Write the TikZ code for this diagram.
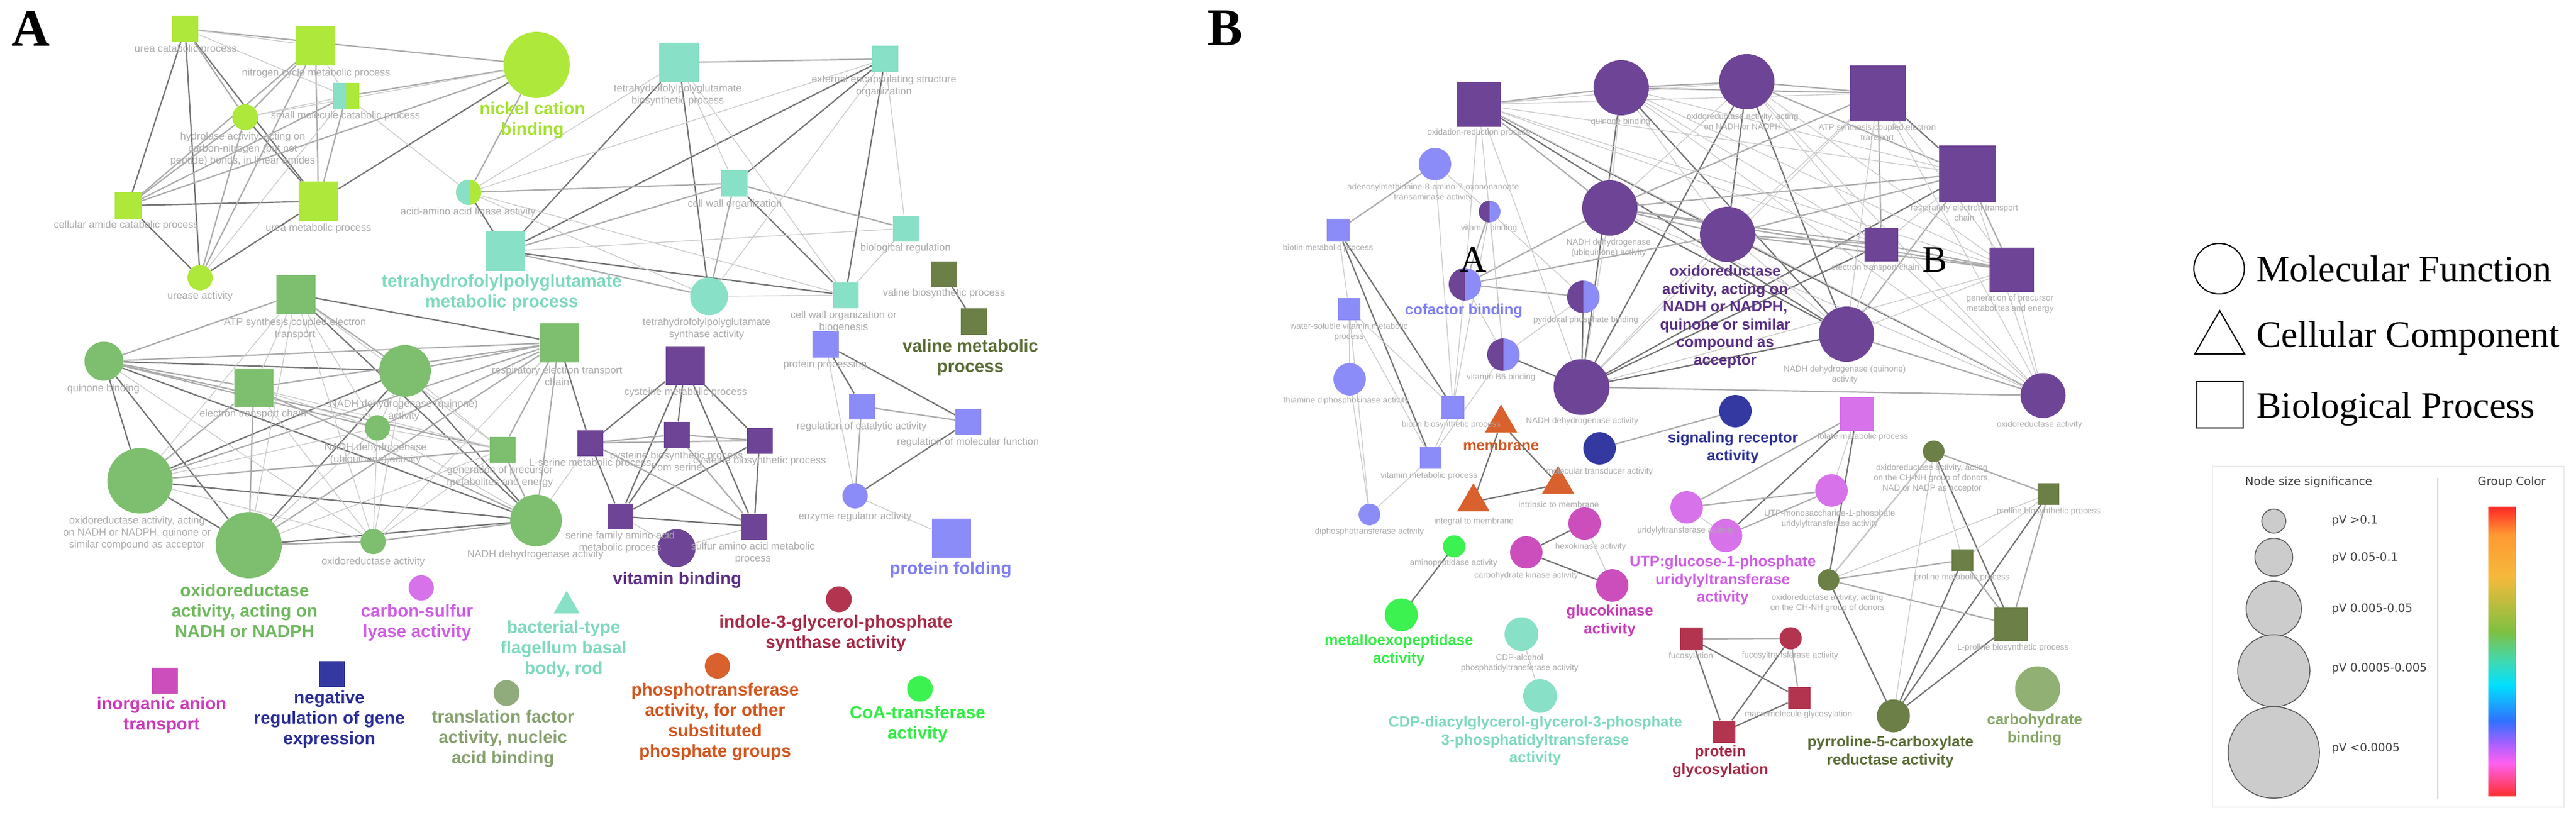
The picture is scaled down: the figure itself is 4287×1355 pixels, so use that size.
\documentclass[tikz,border=0pt]{standalone}
\usepackage{fontspec}
\setmainfont{Liberation Serif}
\newfontfamily\net{Liberation Sans}
\newfontfamily\dv{DejaVu Sans}
\usetikzlibrary{shapes.geometric}
\pgfdeclarelayer{bg}\pgfsetlayers{bg,main}
\definecolor{limeC}{HTML}{AEE83A}\definecolor{limeL}{HTML}{A4E230}
\definecolor{cyanC}{HTML}{88E0C6}\definecolor{cyanL}{HTML}{7ED9BE}
\definecolor{greenC}{HTML}{7DBF6E}\definecolor{greenL}{HTML}{70B85F}
\definecolor{oliveC}{HTML}{6B7F47}\definecolor{oliveL}{HTML}{5A6C34}
\definecolor{purpC}{HTML}{6E4596}\definecolor{purpL}{HTML}{5A2F85}
\definecolor{lavC}{HTML}{8C8CF8}\definecolor{lavL}{HTML}{7F7FF2}
\definecolor{vioC}{HTML}{D772EA}\definecolor{vioL}{HTML}{CF5EE4}
\definecolor{magC}{HTML}{CC4EBC}\definecolor{magL}{HTML}{C93CB8}
\definecolor{navyC}{HTML}{3339A0}\definecolor{navyL}{HTML}{2A2F96}
\definecolor{grgC}{HTML}{90AB7C}\definecolor{grgL}{HTML}{86A06E}
\definecolor{oraC}{HTML}{D8612D}\definecolor{oraL}{HTML}{D2561F}
\definecolor{crimC}{HTML}{B2344F}\definecolor{crimL}{HTML}{A62A47}
\definecolor{lgC}{HTML}{3CF250}\definecolor{lgL}{HTML}{34EC46}
\definecolor{carbC}{HTML}{90B074}\definecolor{carbL}{HTML}{86A766}
\newcommand\labA{\net\fontsize{17}{20}\selectfont}
\newcommand\labB{\net\fontsize{14}{17}\selectfont}
\newcommand\bigA{\net\bfseries\fontsize{29}{34}\selectfont}
\newcommand\bigB{\net\bfseries\fontsize{25}{29.5}\selectfont}
\tikzset{
 mf/.style={circle,inner sep=0,minimum size=#1},
 bp/.style={rectangle,inner sep=0,minimum size=#1},
 cc/.style={regular polygon,regular polygon sides=3,inner sep=0,minimum size=#1},
 split/.style n args={3}{circle,inner sep=0,minimum size=#3,fill=#2,path picture={\fill[#1] (path picture bounding box.south west) rectangle (path picture bounding box.north);}},
 splitsq/.style n args={3}{rectangle,inner sep=0,minimum size=#3,fill=#2,path picture={\fill[#1] (path picture bounding box.south west) rectangle (path picture bounding box.north);}},
 la/.style={font=\labA,text=black!33,align=center,inner sep=0},
 lb/.style={font=\labB,text=black!33,align=center,inner sep=0},
 ba/.style={font=\bigA,text=#1,align=center,inner sep=0},
 bb/.style={font=\bigB,text=#1,align=center,inner sep=0},
 e1/.style={draw=black!20,line width=1.4},
 e2/.style={draw=black!33,line width=2.2},
 e3/.style={draw=black!55,line width=2.2},
}
\begin{document}
\begin{tikzpicture}[x=1pt,y=-1pt]
\useasboundingbox (0,0) rectangle (4287,1355);
\node[font=\bfseries\fontsize{88}{90}\selectfont] (pA) at (51,47) {A};
\node[font=\bfseries\fontsize{88}{90}\selectfont] (pB) at (2039,47) {B};
% ---------- Panel A ----------
\node[bp=44,fill=limeC] (ucp) at (308,48) {};
\node[bp=66,fill=limeC] (ncm) at (525,76) {};
\node[mf=110,fill=limeC] (nick) at (893,108) {};
\node[splitsq={cyanC}{limeC}{44}] (smc) at (576,160) {};
\node[mf=43,fill=limeC] (hyd) at (408,195) {};
\node[bp=45,fill=limeC] (cac) at (213,342) {};
\node[bp=66,fill=limeC] (umb) at (530,335) {};
\node[split={cyanC}{limeC}{42}] (aal) at (780,320) {};
\node[mf=42,fill=limeC] (ure) at (333,462) {};
\node[bp=66,fill=cyanC] (thfm) at (841,418) {};
\node[bp=66,fill=cyanC] (thfb) at (1130,104) {};
\node[bp=44,fill=cyanC] (eeso) at (1473,98) {};
\node[bp=44,fill=cyanC] (cwo) at (1222,305) {};
\node[bp=43,fill=cyanC] (bior) at (1507,380) {};
\node[mf=63,fill=cyanC] (thfs) at (1180,493) {};
\node[bp=43,fill=cyanC] (cwob) at (1407,491) {};
\node[bp=43,fill=oliveC] (vbp) at (1571,456) {};
\node[bp=44,fill=oliveC] (vmp) at (1621,535) {};
\node[bp=65,fill=greenC] (atp) at (492,490) {};
\node[mf=65,fill=greenC] (qb) at (173,601) {};
\node[mf=86,fill=greenC] (ndq) at (674,617) {};
\node[bp=65,fill=greenC] (etc) at (422,645) {};
\node[mf=42,fill=greenC] (ndu) at (628,712) {};
\node[bp=43,fill=greenC] (gpm) at (836,748) {};
\node[bp=65,fill=greenC] (ret) at (930,570) {};
\node[mf=109,fill=greenC] (oxq) at (233,800) {};
\node[mf=110,fill=greenC] (oxn) at (414,907) {};
\node[mf=42,fill=greenC] (oxa) at (621,901) {};
\node[mf=86,fill=greenC] (nda) at (892,866) {};
\node[bp=65,fill=purpC] (cmp) at (1140,608) {};
\node[bp=43,fill=purpC] (lsm) at (982,737) {};
\node[bp=43,fill=purpC] (cbs) at (1126,723) {};
\node[bp=43,fill=purpC] (cbp) at (1264,733) {};
\node[bp=43,fill=purpC] (sfa) at (1032,859) {};
\node[bp=43,fill=purpC] (saa) at (1255,876) {};
\node[mf=63,fill=purpC] (vb) at (1126,912) {};
\node[bp=44,fill=lavC] (pp) at (1374,573) {};
\node[bp=43,fill=lavC] (rca) at (1434,676) {};
\node[bp=43,fill=lavC] (rmf) at (1611,702) {};
\node[mf=42,fill=lavC] (era) at (1423,825) {};
\node[bp=65,fill=lavC] (pf) at (1583,895) {};
\node[mf=42,fill=vioC] (csl) at (701,978) {};
\node[cc=50,fill=cyanC] (bfl) at (943,1008) {};
\node[mf=43,fill=crimC] (igp) at (1396,997) {};
\node[bp=43,fill=magC] (iat) at (274,1132) {};
\node[bp=43,fill=navyC] (nrg) at (552,1121) {};
\node[mf=43,fill=grgC] (tfa) at (843,1153) {};
\node[mf=42,fill=oraC] (pta) at (1194,1108) {};
\node[mf=43,fill=lgC] (coa) at (1531,1146) {};
% labels A
\node[la] (l1) at (309,82) {urea catabolic process};
\node[la] (l2) at (526,122) {nitrogen cycle metabolic process};
\node[ba=limeL] (l3) at (886,200) {nickel cation\\binding};
\node[la] (l4) at (575,193) {small molecule catabolic process};
\node[la] (l5) at (404,248) {hydrolase activity, acting on\\carbon-nitrogen (but not\\peptide) bonds, in linear amides};
\node[la] (l6) at (210,375) {cellular amide catabolic process};
\node[la] (l7) at (530,380) {urea metabolic process};
\node[la] (l8) at (779,353) {acid-amino acid ligase activity};
\node[la] (l9) at (333,493) {urease activity};
\node[ba=cyanL] (l10) at (835,487) {tetrahydrofolylpolyglutamate\\metabolic process};
\node[la] (l11) at (1128,158) {tetrahydrofolylpolyglutamate\\biosynthetic process};
\node[la] (l12) at (1471,143) {external encapsulating structure\\organization};
\node[la] (l13) at (1223,340) {cell wall organization};
\node[la] (l14) at (1507,413) {biological regulation};
\node[la] (l15) at (1571,488) {valine biosynthetic process};
\node[ba=oliveL] (l16) at (1615,595) {valine metabolic\\process};
\node[la] (l17) at (1176,547) {tetrahydrofolylpolyglutamate\\synthase activity};
\node[la] (l18) at (1404,535) {cell wall organization or\\biogenesis};
\node[la] (l19) at (491,547) {ATP synthesis coupled electron\\transport};
\node[la] (l20) at (172,647) {quinone binding};
\node[la] (l21) at (672,683) {NADH dehydrogenase (quinone)\\activity};
\node[la] (l22) at (421,689) {electron transport chain};
\node[la] (l23) at (625,755) {NADH dehydrogenase\\(ubiquinone) activity};
\node[la] (l24) at (832,793) {generation of precursor\\metabolites and energy};
\node[la] (l25) at (927,625) {respiratory electron transport\\chain};
\node[la] (l26) at (228,887) {oxidoreductase activity, acting\\on NADH or NADPH, quinone or\\similar compound as acceptor};
\node[ba=greenL] (l27) at (407,1016) {oxidoreductase\\activity, acting on\\NADH or NADPH};
\node[la] (l28) at (621,935) {oxidoreductase activity};
\node[la] (l29) at (891,923) {NADH dehydrogenase activity};
\node[la] (l30) at (1141,653) {cysteine metabolic process};
\node[la] (l31) at (982,771) {L-serine metabolic process};
\node[la] (l32) at (1126,767) {cysteine biosynthetic process\\from serine};
\node[la] (l33) at (1264,767) {cysteine biosynthetic process};
\node[la] (l34) at (1032,902) {serine family amino acid\\metabolic process};
\node[la] (l35) at (1253,920) {sulfur amino acid metabolic\\process};
\node[ba=purpL] (l36) at (1127,965) {vitamin binding};
\node[la] (l37) at (1373,607) {protein processing};
\node[la] (l38) at (1434,710) {regulation of catalytic activity};
\node[la] (l39) at (1611,736) {regulation of molecular function};
\node[la] (l40) at (1423,860) {enzyme regulator activity};
\node[ba=lavL] (l41) at (1582,948) {protein folding};
\node[ba=vioL] (l42) at (694,1036) {carbon-sulfur\\lyase activity};
\node[ba=cyanL] (l43) at (938,1080) {bacterial-type\\flagellum basal\\body, rod};
\node[ba=crimL] (l44) at (1391,1054) {indole-3-glycerol-phosphate\\synthase activity};
\node[ba=magL] (l45) at (269,1190) {inorganic anion\\transport};
\node[ba=navyL] (l46) at (548,1197) {negative\\regulation of gene\\expression};
\node[ba=grgL] (l47) at (837,1229) {translation factor\\activity, nucleic\\acid binding};
\node[ba=oraL] (l48) at (1190,1201) {phosphotransferase\\activity, for other\\substituted\\phosphate groups};
\node[ba=lgL] (l49) at (1527,1205) {CoA-transferase\\activity};
% ---------- Panel B ----------
\node[bp=74,fill=purpC] (orp) at (2461,174) {};
\node[mf=92,fill=purpC] (bqb) at (2698,146) {};
\node[mf=92,fill=purpC] (bonn) at (2907,136) {};
\node[bp=93,fill=purpC] (batp) at (3125,155) {};
\node[bp=94,fill=purpC] (bret) at (3274,289) {};
\node[mf=92,fill=purpC] (bndu) at (2679,346) {};
\node[mf=92,fill=purpC] (boxq) at (2875,390) {};
\node[bp=56,fill=purpC] (betc) at (3131,407) {};
\node[bp=74,fill=purpC] (bgpm) at (3348,449) {};
\node[mf=92,fill=purpC] (bndq) at (3073,556) {};
\node[mf=93,fill=purpC] (bnda) at (2632,644) {};
\node[mf=75,fill=purpC] (boxa) at (3400,658) {};
\node[split={purpC}{lavC}{36}] (bvb) at (2479,352) {};
\node[split={purpC}{lavC}{54}] (bcof) at (2438,473) {};
\node[split={purpC}{lavC}{54}] (bpyr) at (2635,494) {};
\node[split={purpC}{lavC}{54}] (bvb6) at (2502,590) {};
\node[mf=54,fill=lavC] (bado) at (2388,273) {};
\node[bp=38,fill=lavC] (bbmp) at (2227,383) {};
\node[bp=37,fill=lavC] (bwsv) at (2245,514) {};
\node[mf=54,fill=lavC] (bthi) at (2246,631) {};
\node[bp=38,fill=lavC] (bbbp) at (2418,678) {};
\node[bp=36,fill=lavC] (bvmp) at (2381,762) {};
\node[mf=36,fill=lavC] (bdip) at (2279,856) {};
\node[cc=62,fill=oraC] (bmem) at (2498,704) {};
\node[cc=62,fill=oraC] (bintr) at (2593,806) {};
\node[cc=62,fill=oraC] (bint) at (2452,835) {};
\node[mf=54,fill=navyC] (bmta) at (2662,746) {};
\node[mf=54,fill=navyC] (bsig) at (2888,684) {};
\node[bp=56,fill=vioC] (bfol) at (3090,689) {};
\node[mf=54,fill=vioC] (butp) at (2807,844) {};
\node[mf=54,fill=vioC] (butm) at (3048,816) {};
\node[mf=55,fill=vioC] (butg) at (2872,891) {};
\node[mf=54,fill=magC] (bhex) at (2637,871) {};
\node[mf=54,fill=magC] (bcka) at (2540,919) {};
\node[mf=54,fill=magC] (bglk) at (2683,974) {};
\node[mf=37,fill=lgC] (bamp) at (2420,909) {};
\node[mf=55,fill=lgC] (bmet) at (2332,1023) {};
\node[mf=56,fill=cyanC] (bcdpa) at (2532,1055) {};
\node[mf=56,fill=cyanC] (bcdpd) at (2563,1158) {};
\node[bp=38,fill=crimC] (bfuc) at (2815,1063) {};
\node[mf=37,fill=crimC] (bfta) at (2980,1062) {};
\node[bp=37,fill=crimC] (bmac) at (2994,1161) {};
\node[bp=37,fill=crimC] (bpg) at (2869,1217) {};
\node[mf=36,fill=oliveC] (bch1) at (3218,751) {};
\node[bp=36,fill=oliveC] (bpbp) at (3409,822) {};
\node[bp=36,fill=oliveC] (bpmp) at (3266,932) {};
\node[mf=36,fill=oliveC] (bch2) at (3043,965) {};
\node[bp=56,fill=oliveC] (blpb) at (3347,1039) {};
\node[mf=55,fill=oliveC] (bpyrr) at (3151,1191) {};
\node[mf=75,fill=carbC] (bcarb) at (3391,1146) {};
\node[font=\fontsize{62}{64}\selectfont] (mA) at (2452,432) {A};
\node[font=\fontsize{62}{64}\selectfont] (mB) at (3220,432) {B};
% labels B
\node[lb] (m1) at (2461,221) {oxidation-reduction process};
\node[lb] (m2) at (2697,203) {quinone binding};
\node[lb] (m3) at (2900,202) {oxidoreductase activity, acting\\on NADH or NADPH};
\node[lb] (m4) at (3124,221) {ATP synthesis coupled electron\\transport};
\node[lb] (m5) at (3269,354) {respiratory electron transport\\chain};
\node[lb] (m6) at (2385,320) {adenosylmethionine-8-amino-7-oxononanoate\\transaminase activity};
\node[lb] (m7) at (2478,380) {vitamin binding};
\node[lb] (m8) at (2210,413) {biotin metabolic process};
\node[lb] (m9) at (2677,412) {NADH dehydrogenase\\(ubiquinone) activity};
\node[bb=purpL] (m10) at (2871,527) {oxidoreductase\\activity, acting on\\NADH or NADPH,\\quinone or similar\\compound as\\acceptor};
\node[lb] (m11) at (3121,446) {electron transport chain};
\node[lb] (m12) at (3345,505) {generation of precursor\\metabolites and energy};
\node[bb=lavL] (m13) at (2436,517) {cofactor binding};
\node[lb] (m14) at (2639,533) {pyridoxal phosphate binding};
\node[lb] (m15) at (2245,552) {water-soluble vitamin metabolic\\process};
\node[lb] (m16) at (3070,623) {NADH dehydrogenase (quinone)\\activity};
\node[lb] (m17) at (2498,628) {vitamin B6 binding};
\node[lb] (m18) at (2240,667) {thiamine diphosphokinase activity};
\node[lb] (m19) at (2415,707) {biotin biosynthetic process};
\node[lb] (m20) at (2633,701) {NADH dehydrogenase activity};
\node[lb] (m21) at (3394,707) {oxidoreductase activity};
\node[bb=oraL] (m22) at (2498,741) {membrane};
\node[lb] (m23) at (2662,785) {molecular transducer activity};
\node[bb=navyL] (m24) at (2884,745) {signaling receptor\\activity};
\node[lb] (m25) at (3100,727) {folate metabolic process};
\node[lb] (m26) at (3215,796) {oxidoreductase activity, acting\\on the CH-NH group of donors,\\NAD or NADP as acceptor};
\node[lb] (m27) at (3409,851) {proline biosynthetic process};
\node[lb] (m28) at (2378,792) {vitamin metabolic process};
\node[lb] (m29) at (2594,839) {intrinsic to membrane};
\node[lb] (m30) at (2453,868) {integral to membrane};
\node[lb] (m31) at (2279,885) {diphosphotransferase activity};
\node[lb] (m32) at (2805,883) {uridylyltransferase activity};
\node[lb] (m33) at (3045,863) {UTP-monosaccharide-1-phosphate\\uridylyltransferase activity};
\node[bb=vioL] (m34) at (2867,966) {UTP:glucose-1-phosphate\\uridylyltransferase\\activity};
\node[lb] (m35) at (2647,910) {hexokinase activity};
\node[lb] (m36) at (2540,958) {carbohydrate kinase activity};
\node[bb=magL] (m37) at (2679,1033) {glucokinase\\activity};
\node[lb] (m38) at (2419,937) {aminopeptidase activity};
\node[lb] (m39) at (3265,961) {proline metabolic process};
\node[lb] (m40) at (3041,1003) {oxidoreductase activity, acting\\on the CH-NH group of donors};
\node[lb] (m41) at (3350,1078) {L-proline biosynthetic process};
\node[bb=lgL] (m42) at (2328,1082) {metalloexopeptidase\\activity};
\node[lb] (m43) at (2529,1103) {CDP-alcohol\\phosphatidyltransferase activity};
\node[bb=cyanL] (m44) at (2555,1233) {CDP-diacylglycerol-glycerol-3-phosphate\\3-phosphatidyltransferase\\activity};
\node[lb] (m45) at (2814,1092) {fucosylation};
\node[lb] (m46) at (2979,1091) {fucosyltransferase activity};
\node[lb] (m47) at (2993,1189) {macromolecule glycosylation};
\node[bb=crimL] (m48) at (2863,1267) {protein\\glycosylation};
\node[bb=oliveL] (m49) at (3146,1251) {pyrroline-5-carboxylate\\reductase activity};
\node[bb=carbL] (m50) at (3386,1214) {carbohydrate\\binding};
% ---------- Legend ----------
\node[circle,draw=black,line width=2,minimum size=84,inner sep=0] (gmf) at (3693,447) {};
\node[regular polygon,regular polygon sides=3,draw=black,line width=2,minimum size=96,inner sep=0] (gcc) at (3694,565) {};
\node[rectangle,draw=black,line width=2,minimum size=77,inner sep=0] (gbp) at (3694,673) {};
\node[anchor=west,font=\fontsize{62}{64}\selectfont] (tmf) at (3752,447) {Molecular Function};
\node[anchor=west,font=\fontsize{62}{64}\selectfont] (tcc) at (3752,563) {Cellular Component};
\node[anchor=west,font=\fontsize{62}{64}\selectfont] (tbp) at (3752,681) {Biological Process};
\draw[draw=black!8,line width=2] (3682,776) rectangle (4267,1343);
\draw[draw=black!22,line width=2] (4057,795) -- (4057,1330);
\node[font=\dv\fontsize{19}{21}\selectfont,text=black!75] (tns) at (3842,802) {Node size significance};
\node[font=\dv\fontsize{19}{21}\selectfont,text=black!75] (tgc) at (4180,802) {Group Color};
\tikzset{sz/.style={circle,fill=black!20,draw=black!65,line width=1.5,inner sep=0,minimum size=#1}}
\node[sz=40] (s1) at (3784,867) {};
\node[sz=63] (s2) at (3784,927) {};
\node[sz=92] (s3) at (3784,1013) {};
\node[sz=120] (s4) at (3784,1116) {};
\node[sz=152] (s5) at (3784,1252) {};
\tikzset{st/.style={anchor=west,font=\dv\fontsize{19}{21}\selectfont,text=black!75,inner sep=0}}
\node[st] (t1) at (3880,866) {pV >0.1};
\node[st] (t2) at (3880,928) {pV 0.05-0.1};
\node[st] (t3) at (3880,1013) {pV 0.005-0.05};
\node[st] (t4) at (3880,1112) {pV 0.0005-0.005};
\node[st] (t5) at (3880,1245) {pV <0.0005};
\shade[top color=red!85!white,bottom color=orange!80!white] (4141,843) rectangle (4187,890);
\shade[top color=orange!80!white,bottom color={rgb,255:red,245;green,185;blue,60}] (4141,890) rectangle (4187,960);
\shade[top color={rgb,255:red,245;green,185;blue,60},bottom color={rgb,255:red,128;green,192;blue,64}] (4141,960) rectangle (4187,1050);
\shade[top color={rgb,255:red,128;green,192;blue,64},bottom color={rgb,255:red,64;green,216;blue,176}] (4141,1050) rectangle (4187,1100);
\shade[top color={rgb,255:red,64;green,216;blue,176},bottom color={rgb,255:red,0;green,224;blue,255}] (4141,1100) rectangle (4187,1140);
\shade[top color={rgb,255:red,0;green,224;blue,255},bottom color={rgb,255:red,48;green,112;blue,255}] (4141,1140) rectangle (4187,1200);
\shade[top color={rgb,255:red,48;green,112;blue,255},bottom color={rgb,255:red,176;green,96;blue,255}] (4141,1200) rectangle (4187,1240);
\shade[top color={rgb,255:red,176;green,96;blue,255},bottom color={rgb,255:red,255;green,96;blue,240}] (4141,1240) rectangle (4187,1270);
\shade[top color={rgb,255:red,255;green,96;blue,240},bottom color={rgb,255:red,255;green,48;blue,48}] (4141,1270) rectangle (4187,1324);
% ---------- Edges ----------
\begin{pgfonlayer}{bg}
\foreach \a/\b in {ucp/cac,ucp/ure,ucp/umb,hyd/umb,cac/ure,umb/ure,nick/umb,cac/umb,thfm/thfb,thfm/eeso,thfb/thfs,eeso/cwo,cwo/cwob,eeso/cwob,thfm/cwob,aal/thfm,vbp/vmp,
 qb/ndq,qb/oxn,qb/nda,oxq/ndq,oxq/nda,oxq/oxn,oxn/ndq,oxn/nda,ndq/nda,atp/ret,atp/nda,qb/oxq,ret/lsm,
 cmp/lsm,cmp/cbs,cmp/cbp,cmp/sfa,cmp/saa,lsm/sfa,cbs/sfa,cbp/saa,sfa/saa,cbp/sfa,pp/rca,pp/rmf,rmf/era}
 \draw[e3] (\a)--(\b);
\foreach \a/\b in {ucp/nick,ucp/hyd,ncm/hyd,ncm/cac,ncm/umb,ncm/ure,smc/nick,smc/cac,smc/umb,hyd/cac,hyd/ure,cac/nick,aal/nick,thfb/eeso,cwo/thfs,cwo/bior,thfm/thfs,thfm/cwo,aal/cwo,
 qb/etc,qb/ret,qb/gpm,qb/atp,etc/ret,etc/nda,etc/oxq,etc/oxn,ndq/ret,ret/oxq,ret/oxn,ret/nda,ret/gpm,ndu/ret,ndu/qb,gpm/oxq,gpm/nda,oxa/oxn,oxa/nda,atp/ndq,
 lsm/cbs,lsm/cbp,cbs/cbp,lsm/saa,cbs/saa,rca/rmf,rca/era}
 \draw[e2] (\a)--(\b);
\foreach \a/\b in {ucp/ncm,ucp/smc,ncm/smc,smc/hyd,smc/ure,hyd/nick,smc/aal,thfb/cwob,thfb/cwo,eeso/thfs,eeso/bior,bior/cwob,thfs/cwob,aal/thfb,aal/eeso,aal/thfs,aal/cwob,thfm/bior,
 atp/etc,atp/oxq,atp/oxn,atp/ndu,atp/oxa,atp/gpm,etc/ndu,etc/oxa,etc/gpm,ndq/ndu,ndq/gpm,ndq/oxa,ndu/oxq,ndu/oxn,ndu/oxa,ndu/nda,ndu/gpm,gpm/oxn,gpm/oxa,qb/oxa,oxq/oxa,ret/oxa,nda/lsm,
 sfa/vb,saa/vb,pp/era,era/pf}
 \draw[e1] (\a)--(\b);
\foreach \a/\b in {orp/boxq,bqb/bnda,bqb/bndq,bonn/bnda,bonn/boxq,bonn/bndq,bndu/bndq,boxq/boxa,batp/bret,bndq/bnda,orp/bndq,betc/bnda,bret/bnda,
 bvb6/bnda,bpyr/bnda,bbmp/bbbp,bbmp/bvmp,bint/bintr,bmem/bint,bmem/bintr,bhex/bcka,bcka/bglk,bamp/bmet,bfuc/bmac,bfuc/bpg,bfta/bpg,bmac/bpg,bch2/bfol,bch1/blpb,bch2/bpyrr,blpb/bpyrr,bpbp/bpyrr,bpmp/bpyrr,bfol/butg}
 \draw[e3] (\a)--(\b);
\foreach \a/\b in {orp/bqb,bqb/bonn,bonn/batp,bqb/batp,orp/bndu,bndu/bret,bndu/boxq,bndu/bgpm,boxq/bgpm,boxq/betc,bndu/betc,bnda/boxa,bndq/boxa,bret/bgpm,bret/boxq,bret/bndq,betc/bgpm,batp/betc,batp/bndu,bonn/bret,
 bcof/bpyr,bcof/bndu,bcof/boxq,bvb/bcof,bmta/bsig,bfol/butp,butp/butm,butg/butm,bfuc/bfta,bfta/bmac,bch2/bpmp,bch2/bch1,bch1/bpbp,bpbp/blpb,bpmp/blpb,bch2/blpb,bado/bbmp}
 \draw[e2] (\a)--(\b);
\foreach \a/\b in {orp/bonn,orp/batp,orp/bret,orp/betc,orp/bgpm,orp/bnda,orp/boxa,bqb/bret,bqb/bndu,bqb/boxq,bqb/betc,bqb/bgpm,bqb/boxa,bonn/bndu,bonn/betc,bonn/bgpm,bonn/boxa,batp/boxq,batp/bgpm,batp/bndq,batp/bnda,batp/boxa,bret/betc,bret/boxa,bndu/bnda,bndu/boxa,boxq/bndq,boxq/bnda,betc/bndq,betc/boxa,bgpm/bndq,bgpm/bnda,bgpm/boxa,
 bado/bbbp,bado/bvb,bwsv/bbbp,bwsv/bvmp,bwsv/bdip,bthi/bdip,bthi/bwsv,bvmp/bdip,bbbp/bvmp,bvb/bvb6,bcof/bvb6,bpyr/bvb6,bvb/bpyr,bcof/bbbp,bvb6/bvmp,orp/bvb6,orp/bcof,bvb/bbbp,bbmp/bwsv,
 bhex/bglk,bcdpa/bcdpd,butp/butg,bfol/butm,bch1/bpmp,bch1/bpyrr,bch1/bch2,bpbp/bpmp,bpbp/bch2}
 \draw[e1] (\a)--(\b);
\end{pgfonlayer}
\end{tikzpicture}
\end{document}
